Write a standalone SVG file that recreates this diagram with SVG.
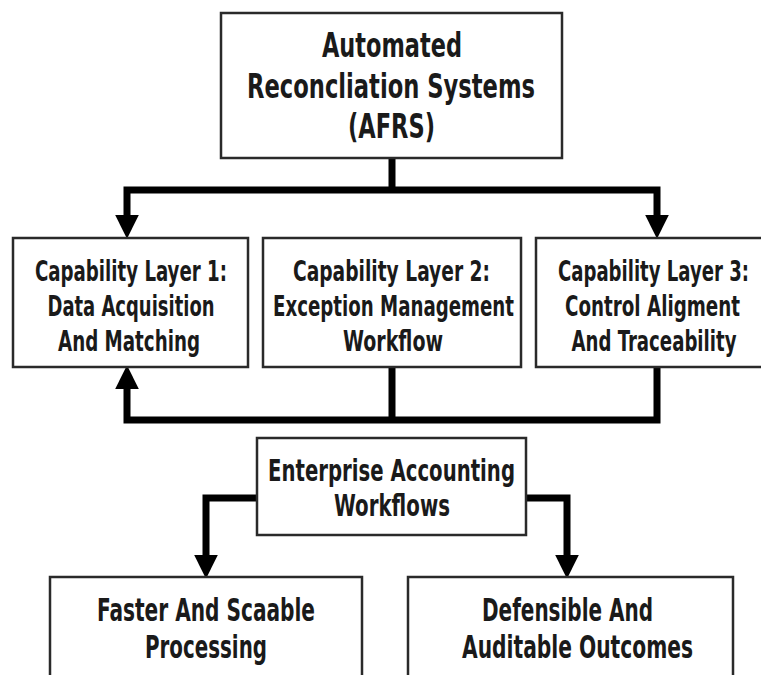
<svg xmlns="http://www.w3.org/2000/svg" width="761" height="675" viewBox="0 0 761 675">
  <style>
    .box { fill: #ffffff; stroke: #2a2a2a; stroke-width: 2.5; }
    .lbl { font-family: "Liberation Sans Narrow", "DejaVu Sans Condensed", "Roboto", "Liberation Sans", sans-serif; font-weight: bold; font-stretch: condensed; fill: #1a1a1a; text-anchor: middle; }
    .conn { fill: none; stroke: #000000; stroke-width: 7; stroke-linejoin: miter; stroke-linecap: butt; }
  </style>
  <defs>
    <marker id="arrow" markerUnits="userSpaceOnUse" markerWidth="24" markerHeight="24" viewBox="0 0 22 22" refX="4" refY="11" orient="auto">
      <path d="M0,0 L22,11 L0,22 z" fill="#000000"/>
    </marker>
  </defs>
  <rect width="761" height="675" fill="#ffffff"/>

  <g id="connectors">
    <path class="conn" d="M392,158 V190"/>
    <path class="conn" d="M392,190 H127 V219" marker-end="url(#arrow)"/>
    <path class="conn" d="M392,190 H657 V219" marker-end="url(#arrow)"/>
    <path class="conn" d="M392,367 V420"/>
    <path class="conn" d="M657,367 V420 H127 V385" marker-end="url(#arrow)"/>
    <path class="conn" d="M257,498 H206 V559" marker-end="url(#arrow)"/>
    <path class="conn" d="M526,498 H567 V559" marker-end="url(#arrow)"/>
  </g>

  <g id="afrs">
    <rect class="box" x="221" y="13" width="341" height="145"/>
    <text class="lbl" font-size="33" x="392" y="57" textLength="140" lengthAdjust="spacingAndGlyphs">Automated</text>
    <text class="lbl" font-size="33" x="391" y="98" textLength="288" lengthAdjust="spacingAndGlyphs">Reconcliation Systems</text>
    <text class="lbl" font-size="33" x="391.5" y="138" textLength="87" lengthAdjust="spacingAndGlyphs">(AFRS)</text>
  </g>

  <g id="layer1">
    <rect class="box" x="13" y="238" width="235" height="129"/>
    <text class="lbl" font-size="28" x="131" y="281" textLength="192" lengthAdjust="spacingAndGlyphs">Capability Layer 1:</text>
    <text class="lbl" font-size="28" x="131" y="316" textLength="167" lengthAdjust="spacingAndGlyphs">Data Acquisition</text>
    <text class="lbl" font-size="28" x="129" y="351" textLength="142" lengthAdjust="spacingAndGlyphs">And Matching</text>
  </g>

  <g id="layer2">
    <rect class="box" x="263" y="238" width="258" height="129"/>
    <text class="lbl" font-size="28" x="391.5" y="281" textLength="197" lengthAdjust="spacingAndGlyphs">Capability Layer 2:</text>
    <text class="lbl" font-size="28" x="393.5" y="316" textLength="241" lengthAdjust="spacingAndGlyphs">Exception Management</text>
    <text class="lbl" font-size="28" x="393" y="351" textLength="100" lengthAdjust="spacingAndGlyphs">Workflow</text>
  </g>

  <g id="layer3">
    <rect class="box" x="536" y="238" width="240" height="129"/>
    <text class="lbl" font-size="28" x="653.5" y="281" textLength="191" lengthAdjust="spacingAndGlyphs">Capability Layer 3:</text>
    <text class="lbl" font-size="28" x="652.5" y="316" textLength="175" lengthAdjust="spacingAndGlyphs">Control Aligment</text>
    <text class="lbl" font-size="28" x="654" y="351" textLength="165" lengthAdjust="spacingAndGlyphs">And Traceability</text>
  </g>

  <g id="enterprise">
    <rect class="box" x="257" y="438" width="269" height="97"/>
    <text class="lbl" font-size="30" x="391.5" y="481" textLength="247" lengthAdjust="spacingAndGlyphs">Enterprise Accounting</text>
    <text class="lbl" font-size="30" x="392" y="516" textLength="116" lengthAdjust="spacingAndGlyphs">Workflows</text>
  </g>

  <g id="faster">
    <rect class="box" x="50" y="577" width="312" height="120"/>
    <text class="lbl" font-size="32" x="206" y="621" textLength="218" lengthAdjust="spacingAndGlyphs">Faster And Scaable</text>
    <text class="lbl" font-size="32" x="206" y="658" textLength="122" lengthAdjust="spacingAndGlyphs">Processing</text>
  </g>

  <g id="defensible">
    <rect class="box" x="408" y="577" width="325" height="120"/>
    <text class="lbl" font-size="32" x="567.5" y="621" textLength="171" lengthAdjust="spacingAndGlyphs">Defensible And</text>
    <text class="lbl" font-size="32" x="577.5" y="658" textLength="231" lengthAdjust="spacingAndGlyphs">Auditable Outcomes</text>
  </g>
</svg>
